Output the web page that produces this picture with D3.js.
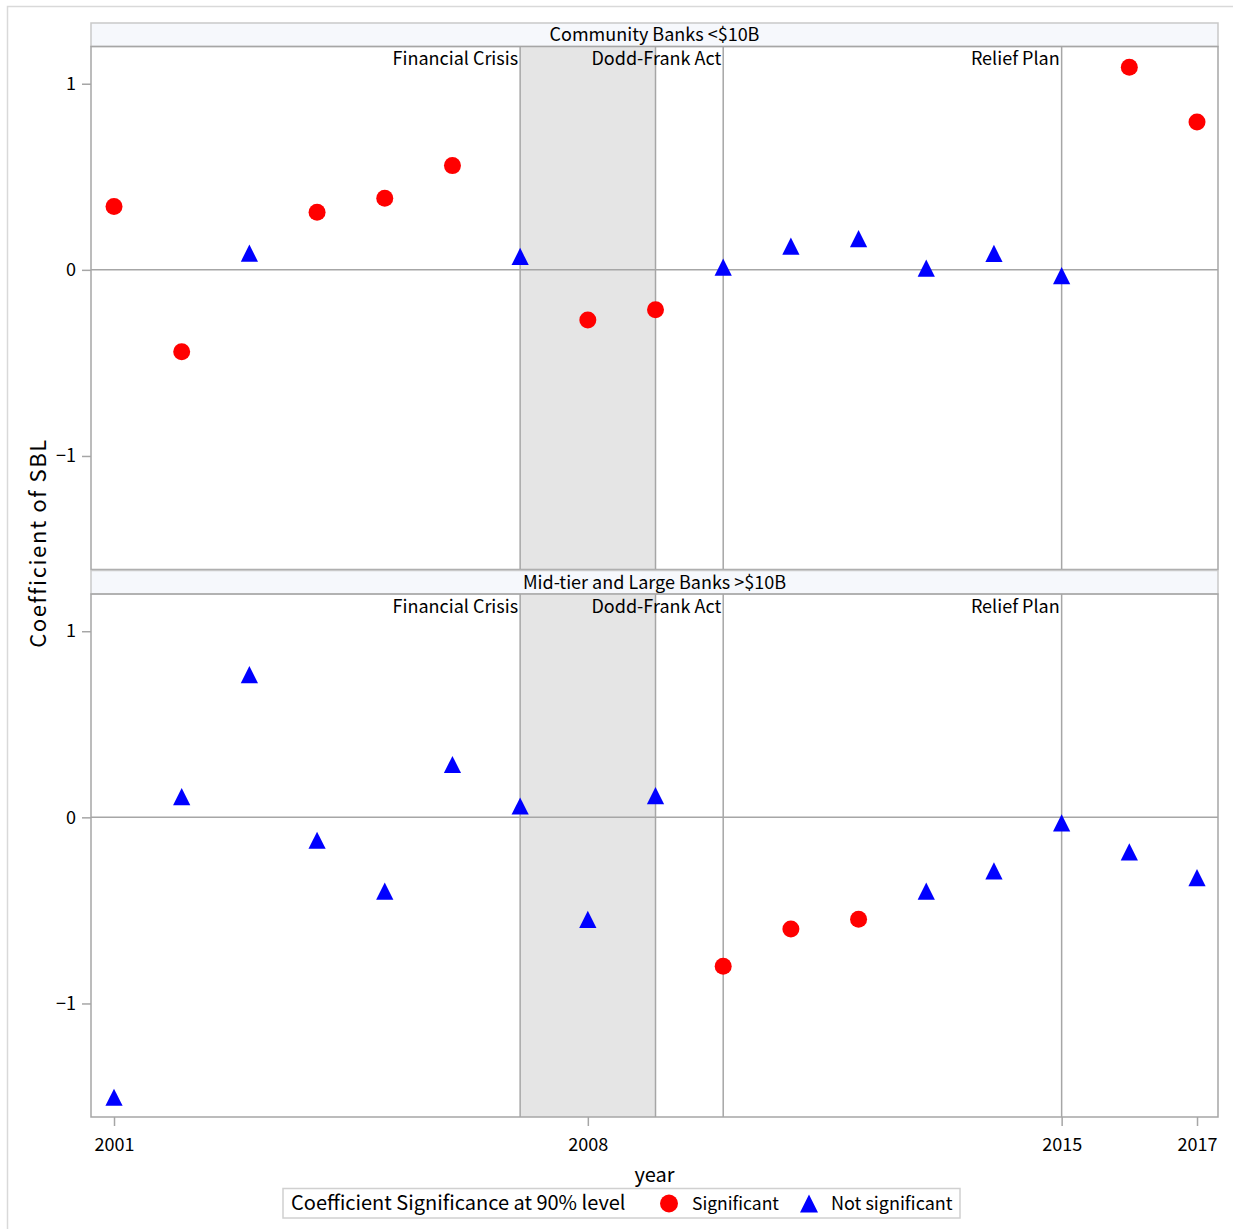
<!DOCTYPE html>
<html>
<head>
<meta charset="utf-8">
<script src="https://cdn.jsdelivr.net/npm/d3@7"></script>
<style>
  html, body { margin: 0; padding: 0; background: #fff; }
  svg { display: block; font-family: "Noto Sans CJK JP", "Noto Sans", sans-serif; }
</style>
</head>
<body>
<svg id="chart" width="1233" height="1229"></svg>
<script>
// Years on the x axis
const years = [2001, 2002, 2003, 2004, 2005, 2006, 2007, 2008, 2009,
               2010, 2011, 2012, 2013, 2014, 2015, 2016, 2017];

// Panel titles
const panelTitles = ["Community Banks <$10B", "Mid-tier and Large Banks >$10B"];

// Coefficient of SBL by year, community banks
const communityCoef = [0.34, -0.44, 0.09, 0.31, 0.385, 0.56, 0.072, -0.27, -0.215,
                       0.015, 0.127, 0.168, 0.009, 0.088, -0.031, 1.089, 0.794];
// 1 = significant at 90% level, 0 = not significant
const communitySig = [1, 1, 0, 1, 1, 1, 0, 1, 1, 0, 0, 0, 0, 0, 0, 1, 1];

// Coefficient of SBL by year, mid-tier and large banks
const largeCoef = [-1.504, 0.111, 0.767, -0.123, -0.396, 0.284, 0.061, -0.548, 0.117,
                   -0.80, -0.60, -0.547, -0.396, -0.288, -0.03, -0.185, -0.324];
const largeSig = [0, 0, 0, 0, 0, 0, 0, 0, 0, 1, 1, 1, 0, 0, 0, 0, 0];

// Policy events: shaded crisis band and reference lines
const crisisBand = [2007, 2009];
const eventYears = [2007, 2010, 2015];
const eventLabels = ["Financial Crisis", "Dodd-Frank Act", "Relief Plan"];

// Axis ticks
const xTicks = [2001, 2008, 2015, 2017];
const yTicks = [-1, 0, 1];

const legendTitle = "Coefficient Significance at 90% level";
const legendLabels = ["Significant", "Not significant"];

const panels = [
  { title: panelTitles[0], coef: communityCoef, sig: communitySig },
  { title: panelTitles[1], coef: largeCoef, sig: largeSig }
];

const svg = d3.select("#chart");
const W = 1233, H = 1229;
const left = 91, right = 1218;
const headerH = 23.5;
const plotH = 523;
const panelTops = [23, 570.5];

const colorSig = "#ff0000", colorNot = "#0000ff";
const gridColor = "#a6a6a6";

// outer frame
svg.append("rect").attr("x", 7.5).attr("y", 6.5).attr("width", W).attr("height", H)
  .attr("fill", "none").attr("stroke", "#d9d9d9").attr("stroke-width", 1.5);

const x = d3.scaleLinear().domain([2000.66, 2017.31]).range([left, right]);

const triPath = s => `M0,${-s}L${s},${s}L${-s},${s}Z`;

panels.forEach((p, pi) => {
  const top = panelTops[pi];
  const plotTop = top + headerH;
  const plotBottom = plotTop + plotH;
  const y = d3.scaleLinear().domain([-1.61, 1.2]).range([plotBottom, plotTop]);

  const g = svg.append("g");

  // panel header
  g.append("rect").attr("x", left).attr("y", top).attr("width", right - left).attr("height", headerH)
    .attr("fill", "#f6f8fc").attr("stroke", "#c9c9c9").attr("stroke-width", 1.5);
  g.append("text").attr("x", (left + right) / 2).attr("y", top + headerH / 2 + 6.5)
    .attr("text-anchor", "middle").attr("font-size", 18).attr("fill", "#000")
    .text(p.title);

  // crisis shading
  g.append("rect").attr("x", x(crisisBand[0])).attr("y", plotTop)
    .attr("width", x(crisisBand[1]) - x(crisisBand[0])).attr("height", plotH)
    .attr("fill", "#e5e5e5");

  // zero line
  g.append("line").attr("x1", left).attr("x2", right).attr("y1", y(0)).attr("y2", y(0))
    .attr("stroke", gridColor).attr("stroke-width", 1.5);

  // event reference lines
  const refYears = [crisisBand[0], crisisBand[1], eventYears[1], eventYears[2]];
  g.selectAll(".ref").data(refYears).join("line")
    .attr("x1", d => x(d)).attr("x2", d => x(d))
    .attr("y1", plotTop).attr("y2", plotBottom)
    .attr("stroke", gridColor).attr("stroke-width", 1.5);

  // event labels, right-aligned to their line
  g.selectAll(".evlab").data(eventYears).join("text")
    .attr("x", d => x(d) - 2).attr("y", plotTop + 18.5)
    .attr("text-anchor", "end").attr("font-size", 18).attr("fill", "#000")
    .text((d, i) => eventLabels[i]);

  // plot frame
  g.append("rect").attr("x", left).attr("y", plotTop).attr("width", right - left).attr("height", plotH)
    .attr("fill", "none").attr("stroke", gridColor).attr("stroke-width", 1.5);

  // y axis
  const yAxis = g.append("g").attr("transform", `translate(${left},0)`)
    .call(d3.axisLeft(y).tickValues(yTicks).tickSize(9).tickPadding(6).tickFormat(d3.format("d")));
  yAxis.select(".domain").remove();
  yAxis.selectAll(".tick line").attr("stroke", gridColor).attr("stroke-width", 1.5);
  yAxis.selectAll(".tick text").attr("font-size", 18).attr("fill", "#000")
    .attr("font-family", "Noto Sans CJK JP, sans-serif");

  // x axis on the lower panel
  if (pi === 1) {
    const xAxis = g.append("g").attr("transform", `translate(0,${plotBottom})`)
      .call(d3.axisBottom(x).tickValues(xTicks).tickSize(9).tickPadding(12).tickFormat(d3.format("d")));
    xAxis.select(".domain").remove();
    xAxis.selectAll(".tick line").attr("stroke", gridColor).attr("stroke-width", 1.5);
    xAxis.selectAll(".tick text").attr("font-size", 18).attr("fill", "#000")
      .attr("font-family", "Noto Sans CJK JP, sans-serif");
  }

  // markers
  const pts = years.map((yr, i) => ({ yr, v: p.coef[i], s: p.sig[i] }));
  g.selectAll(".sig").data(pts.filter(d => d.s === 1)).join("circle")
    .attr("cx", d => x(d.yr)).attr("cy", d => y(d.v)).attr("r", 8.5)
    .attr("fill", colorSig);
  g.selectAll(".not").data(pts.filter(d => d.s === 0)).join("path")
    .attr("transform", d => `translate(${x(d.yr)},${y(d.v)})`)
    .attr("d", triPath(8.6)).attr("fill", colorNot);
});

// axis titles
svg.append("text").attr("x", (left + right) / 2).attr("y", 1182)
  .attr("text-anchor", "middle").attr("font-size", 20).text("year");
svg.append("text").attr("transform", "translate(46,543) rotate(-90)")
  .attr("text-anchor", "middle").attr("font-size", 22).attr("letter-spacing", 1.6)
  .text("Coefficient of SBL");

// legend
const lg = svg.append("g");
lg.append("rect").attr("x", 283).attr("y", 1188.5).attr("width", 677).attr("height", 29.5)
  .attr("fill", "#fff").attr("stroke", "#d0d0d0").attr("stroke-width", 1.5);
lg.append("text").attr("x", 291).attr("y", 1210).attr("font-size", 20).text(legendTitle);
lg.append("circle").attr("cx", 669).attr("cy", 1203.5).attr("r", 9).attr("fill", colorSig);
lg.append("text").attr("x", 692).attr("y", 1210).attr("font-size", 17.5).text(legendLabels[0]);
lg.append("path").attr("transform", "translate(809,1203.5)").attr("d", triPath(9)).attr("fill", colorNot);
lg.append("text").attr("x", 831).attr("y", 1210).attr("font-size", 18).text(legendLabels[1]);
</script>
</body>
</html>
